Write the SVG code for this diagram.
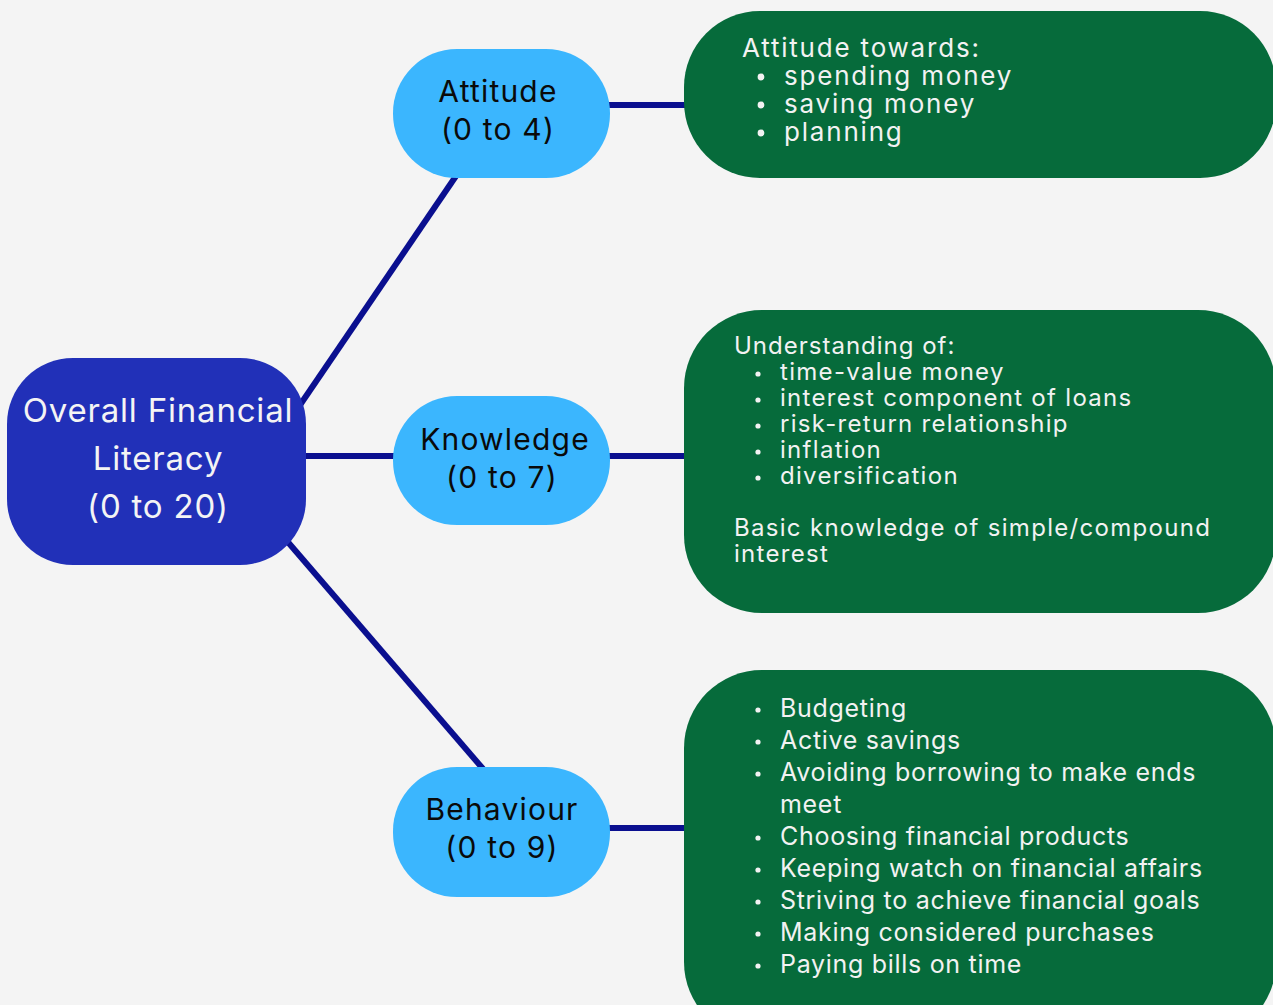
<svg xmlns="http://www.w3.org/2000/svg" width="1273" height="1005" viewBox="0 0 1273 1005">
<style>
.conn{stroke:#0a0f8f;stroke-width:6;fill:none}
.root{fill:#2130b8}
.cat{fill:#3bb6fe}
.det{fill:#066b3b}
.t{font-family:Inter,"Liberation Sans",sans-serif}
.rt{font-size:33px;fill:#f4f4f4;text-anchor:middle;letter-spacing:0.8px}
.ct{font-size:30px;fill:#0a0a0a;text-anchor:middle;letter-spacing:1.2px}
.dt{fill:#f2f2f2}
</style>
<rect width="1273" height="1005" fill="#f4f4f4"/>
<g id="connectors">
<line class="conn" x1="300" y1="405" x2="456" y2="176"/>
<line class="conn" x1="300" y1="456" x2="396" y2="456"/>
<line class="conn" x1="287" y1="541" x2="484" y2="770"/>
<line class="conn" x1="606" y1="105" x2="688" y2="105"/>
<line class="conn" x1="606" y1="456" x2="688" y2="456"/>
<line class="conn" x1="606" y1="828" x2="688" y2="828"/>
</g>
<g id="root">
<rect class="root" x="7" y="358" width="299" height="207" rx="66"/>
<text class="t rt" x="158" y="422">Overall Financial</text>
<text class="t rt" x="158" y="470">Literacy</text>
<text class="t rt" x="158" y="518">(0 to 20)</text>
</g>
<g id="attitude">
<rect class="cat" x="393" y="49" width="217" height="129" rx="64"/>
<text class="t ct" x="498" y="102">Attitude</text>
<text class="t ct" x="498" y="140">(0 to 4)</text>
</g>
<g id="knowledge">
<rect class="cat" x="393" y="396" width="217" height="129" rx="64"/>
<text class="t ct" x="505" y="450">Knowledge</text>
<text class="t ct" x="502" y="488">(0 to 7)</text>
</g>
<g id="behaviour">
<rect class="cat" x="393" y="767" width="217" height="130" rx="64"/>
<text class="t ct" x="502" y="820">Behaviour</text>
<text class="t ct" x="502" y="858">(0 to 9)</text>
</g>
<g id="attitude-details">
<rect class="det" x="684" y="11" width="592" height="167" rx="76"/>
<g class="t dt" font-size="26" letter-spacing="1.8">
<text x="742" y="57">Attitude towards:</text>
<circle cx="761" cy="77" r="3.4"/><text x="784" y="85">spending money</text>
<circle cx="761" cy="105" r="3.4"/><text x="784" y="113">saving money</text>
<circle cx="761" cy="133" r="3.4"/><text x="784" y="141">planning</text>
</g>
</g>
<g id="knowledge-details">
<rect class="det" x="684" y="310" width="592" height="303" rx="78"/>
<g class="t dt" font-size="24" letter-spacing="1.3">
<text x="734" y="354" letter-spacing="1">Understanding of:</text>
<circle cx="758" cy="374" r="2.6"/><text x="780" y="380">time-value money</text>
<circle cx="758" cy="400" r="2.6"/><text x="780" y="406">interest component of loans</text>
<circle cx="758" cy="426" r="2.6"/><text x="780" y="432">risk-return relationship</text>
<circle cx="758" cy="452" r="2.6"/><text x="780" y="458">inflation</text>
<circle cx="758" cy="478" r="2.6"/><text x="780" y="484">diversification</text>
<text x="734" y="536">Basic knowledge of simple/compound</text>
<text x="734" y="562">interest</text>
</g>
</g>
<g id="behaviour-details">
<rect class="det" x="684" y="670" width="592" height="370" rx="78"/>
<g class="t dt" font-size="25" letter-spacing="0.7">
<circle cx="758" cy="710" r="2.6"/><text x="780" y="717">Budgeting</text>
<circle cx="758" cy="742" r="2.6"/><text x="780" y="749">Active savings</text>
<circle cx="758" cy="774" r="2.6"/><text x="780" y="781">Avoiding borrowing to make ends</text>
<text x="780" y="813">meet</text>
<circle cx="758" cy="838" r="2.6"/><text x="780" y="845">Choosing financial products</text>
<circle cx="758" cy="870" r="2.6"/><text x="780" y="877">Keeping watch on financial affairs</text>
<circle cx="758" cy="902" r="2.6"/><text x="780" y="909">Striving to achieve financial goals</text>
<circle cx="758" cy="934" r="2.6"/><text x="780" y="941">Making considered purchases</text>
<circle cx="758" cy="966" r="2.6"/><text x="780" y="973">Paying bills on time</text>
</g>
</g>
</svg>
